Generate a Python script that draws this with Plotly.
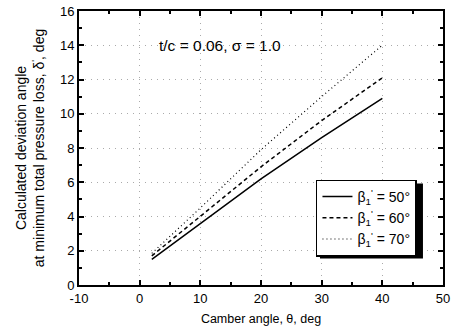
import plotly.graph_objects as go

camber = [2, 10, 20, 30, 40]
dev_b50 = [1.5, 3.6, 6.2, 8.6, 10.9]
dev_b60 = [1.7, 4.0, 6.9, 9.6, 12.1]
dev_b70 = [1.85, 4.5, 7.9, 11.0, 14.0]
names = ["β<sub>1</sub><sup>'</sup> = 50°", "β<sub>1</sub><sup>'</sup> = 60°", "β<sub>1</sub><sup>'</sup> = 70°"]
x_tickvals = [-10, 0, 10, 20, 30, 40, 50]
x_ticktext = ["-10", "0", "10", "20", "30", "40", "50"]

FONT = "Liberation Sans, Arial, sans-serif"
fig = go.Figure()
for i, (y, nm, dash, w) in enumerate([(dev_b50, names[0], "solid", 1.5),
                                      (dev_b60, names[1], "4px,3px", 1.5),
                                      (dev_b70, names[2], "1px,3px", 1.2)]):
    fig.add_trace(go.Scatter(x=camber, y=y, mode="lines", name=nm, legendgroup=f"g{i}",
                             line=dict(color="black", width=w, dash=dash)))

axis_common = dict(showline=True, linecolor="black", linewidth=2, mirror="allticks",
                   ticks="inside", ticklen=5, tickwidth=1.5, tickcolor="black",
                   showgrid=True, gridcolor="#aaa", gridwidth=1, griddash="1px,5px",
                   zeroline=False, ticklabeloverflow="allow",
                   tickfont=dict(size=13, color="black", family=FONT))

fig.update_xaxes(range=[-10, 50], tickmode="array", tickvals=x_tickvals, ticktext=x_ticktext,
                 minor=dict(ticks="inside", ticklen=3, dtick=5, tick0=-10, tickcolor="black", showgrid=False),
                 title=dict(text="Camber angle, θ, deg", font=dict(size=12.5, family=FONT, color="black"),
                            standoff=10),
                 **axis_common)
fig.update_yaxes(range=[0, 16], dtick=2,
                 minor=dict(ticks="inside", ticklen=3, dtick=1, tickcolor="black", showgrid=False),
                 title=dict(text="Calculated deviation angle<br>at minimum total pressure loss, δ<sup>'</sup>, deg",
                            font=dict(size=14, family=FONT, color="black"), standoff=12),
                 **axis_common)

fig.add_annotation(x=0.387, y=0.875, xref="paper", yref="paper", showarrow=False,
                   text="t/c = 0.06, σ = 1.0", font=dict(size=15.5, family=FONT, color="black"),
                   xanchor="center", yanchor="middle")

# legend shadow (drawn in pixels relative to the legend's paper anchor)
fig.add_shape(type="rect", xref="paper", yref="paper", xsizemode="pixel", ysizemode="pixel",
              xanchor=0.651, yanchor=0.385, x0=4, x1=107, y0=-79, y1=-4,
              fillcolor="black", line=dict(width=0), layer="above")

fig.update_layout(
    width=453, height=333,
    margin=dict(l=79, r=10, t=11, b=48, autoexpand=False),
    paper_bgcolor="white", plot_bgcolor="white",
    font=dict(family=FONT, color="black"),
    legend=dict(x=0.651, y=0.385, xanchor="left", yanchor="top",
                bgcolor="white", bordercolor="black", borderwidth=1.5,
                font=dict(size=14, family=FONT, color="black"),
                itemwidth=30, tracegroupgap=0),
)
fig.write_html("out.html", config={"displayModeBar": False},
               post_script="document.body.style.margin='0';")
